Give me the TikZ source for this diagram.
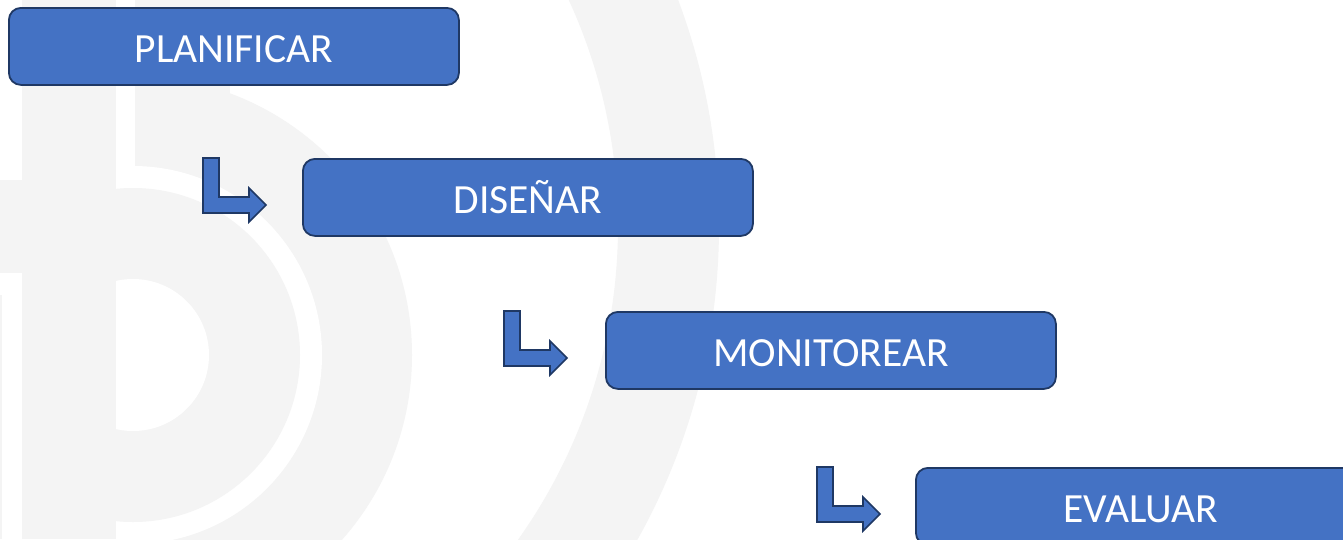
\documentclass[tikz,border=0pt]{standalone}
\usepackage{fontspec}
\setmainfont{Carlito}
\definecolor{boxblue}{RGB}{68,114,196}
\definecolor{boxline}{RGB}{31,56,100}
\definecolor{wm}{RGB}{244,244,244}
\begin{document}
\begin{tikzpicture}[x=1pt,y=-1pt,
  stepbox/.style={draw=boxline, line width=1.8pt, fill=boxblue, rounded corners=12pt,
    minimum width=450pt, minimum height=77pt, inner sep=0pt, anchor=north west,
    text=white, font=\fontsize{41.5}{50}\selectfont, text height=36pt, text depth=3.6pt},
  bentarrow/.style={draw=boxline, line width=1.6pt, fill=boxblue, line join=miter},
  bent/.pic={\draw[bentarrow] (0,0) -- (16,0) -- (16,39) -- (46,39) -- (46,30) -- (63,47)
     -- (46,64) -- (46,55) -- (0,55) -- cycle;}]
\useasboundingbox (0,0) rectangle (1343,539);
% watermark
\begin{scope}
  \clip (0,0) rectangle (1343,539);
  \fill[white] (0,0) rectangle (1343,539);
  \fill[wm, even odd rule] (76,226) circle (643pt) (76,226) circle (542pt);
  \begin{scope}
    \clip (135,0) rectangle (1343,539);
    \fill[wm] (133,355) circle (279pt);
  \end{scope}
  \fill[wm] (135,0) rectangle (230,130);
  \begin{scope}
    \clip (116,0) rectangle (1343,539);
    \fill[white] (133,355) circle (189pt);
    \fill[wm] (133,355) circle (167pt);
    \fill[white] (133,355) circle (76pt);
  \end{scope}
  \fill[wm] (22,0) rectangle (116,539);
  \fill[wm] (0,180) rectangle (22,273);
  \fill[wm] (0,295) rectangle (2,539);
\end{scope}
% boxes
\node[stepbox] (plan) at (8,7) {PLANIFICAR};
\node[stepbox] (dis) at (302,158) {DISEÑAR};
\node[stepbox] (mon) at (605,311) {MONITOREAR};
\node[stepbox] (eva) at (915,467) {EVALUAR};
% bent arrows
\pic at ([xshift=-99pt]dis.north west) {bent};
\pic at ([xshift=-101pt]mon.north west) {bent};
\pic at ([xshift=-98pt]eva.north west) {bent};
\end{tikzpicture}
\end{document}
